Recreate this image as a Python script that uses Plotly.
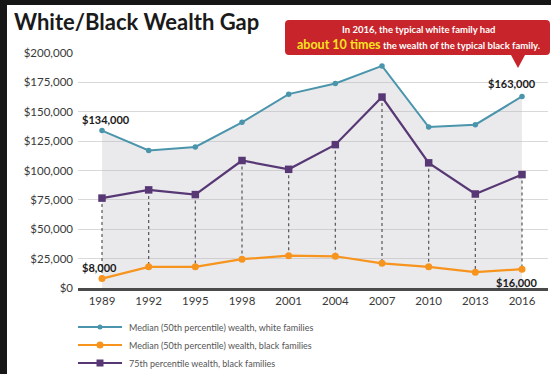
import plotly.graph_objects as go

years = [1989, 1992, 1995, 1998, 2001, 2004, 2007, 2010, 2013, 2016]
white_median = [134000, 117000, 120000, 141000, 165000, 174000, 189000, 137000, 139000, 163000]
black_median = [8000, 18000, 18000, 24500, 27500, 27000, 21000, 18000, 13500, 16000]
black_p75 = [76500, 83500, 79500, 108500, 101000, 122000, 162500, 106500, 80000, 96500]
y_ticks = [0, 25000, 50000, 75000, 100000, 125000, 150000, 175000, 200000]
y_tick_labels = ["$0", "$25,000", "$50,000", "$75,000", "$100,000", "$125,000", "$150,000", "$175,000", "$200,000"]
legend_names = ["Median (50th percentile) wealth, white families",
                "Median (50th percentile) wealth, black families",
                "75th percentile wealth, black families"]

W, H = 551, 374
L, R = 78, 548       # plot area pixel x
TOP, BOT = 53, 288   # plot area pixel y


def px(xp):
    return (xp - L) / (R - L)


def py(yp):
    return (BOT - yp) / (BOT - TOP)


C_WHITE = "#4a95ab"
C_BLACK = "#f7941e"
C_P75 = "#573874"
FONT = "Lato"

fig = go.Figure()

# shaded area under white median
fig.add_trace(go.Scatter(x=years, y=white_median, mode="none", fill="tozeroy",
                         fillcolor="rgba(185,185,195,0.3)", hoverinfo="skip", showlegend=False))

# dotted connectors between 75th pct and median black
dx, dy = [], []
for yr, a, b in zip(years, black_p75, black_median):
    dx += [yr, yr, None]
    dy += [a, b, None]
fig.add_trace(go.Scatter(x=dx, y=dy, mode="lines", line=dict(color="#555", width=1.2, dash="dot"),
                         hoverinfo="skip", showlegend=False))

fig.add_trace(go.Scatter(x=years, y=white_median, mode="lines+markers", name=legend_names[0],
                         line=dict(color=C_WHITE, width=2), marker=dict(size=5.5, color=C_WHITE),
                         cliponaxis=False, showlegend=False))
fig.add_trace(go.Scatter(x=years, y=black_median, mode="lines+markers", name=legend_names[1],
                         line=dict(color=C_BLACK, width=2.2), marker=dict(size=7, color=C_BLACK),
                         cliponaxis=False, showlegend=False))
fig.add_trace(go.Scatter(x=years, y=black_p75, mode="lines+markers", name=legend_names[2],
                         line=dict(color=C_P75, width=2.2),
                         marker=dict(size=7.5, color=C_P75, symbol="square"),
                         cliponaxis=False, showlegend=False))

shapes = []
# dark frame & white card
shapes.append(dict(type="rect", xref="paper", yref="paper", x0=px(7), x1=px(W + 2), y0=py(H + 2), y1=py(5),
                   fillcolor="#ffffff", line=dict(width=0), layer="below"))

# callout box with pointer
bx0, bx1, by0, by1, r = 285, 550, 20, 55, 4
tx, ttip = 518, 68
path = (f"M{px(bx0 + r)},{py(by0)} L{px(bx1 - r)},{py(by0)} Q{px(bx1)},{py(by0)} {px(bx1)},{py(by0 + r)} "
        f"L{px(bx1)},{py(by1 - r)} Q{px(bx1)},{py(by1)} {px(bx1 - r)},{py(by1)} "
        f"L{px(tx + 7)},{py(by1)} L{px(tx)},{py(ttip)} L{px(tx - 7)},{py(by1)} "
        f"L{px(bx0 + r)},{py(by1)} Q{px(bx0)},{py(by1)} {px(bx0)},{py(by1 - r)} "
        f"L{px(bx0)},{py(by0 + r)} Q{px(bx0)},{py(by0)} {px(bx0 + r)},{py(by0)} Z")
shapes.append(dict(type="path", xref="paper", yref="paper", path=path, fillcolor="#c7252b",
                   line=dict(width=0), layer="above"))

annotations = []
annotations.append(dict(xref="paper", yref="paper", x=px(12), y=py(22), xanchor="left", yanchor="middle",
                        text="<b>White/Black Wealth Gap</b>", showarrow=False,
                        font=dict(family=FONT, size=22, color="#1a1a1a")))
annotations.append(dict(xref="paper", yref="paper", x=px(418), y=py(30), xanchor="center", yanchor="middle",
                        text="<b>In 2016, the typical white family had</b>", showarrow=False,
                        font=dict(family=FONT, size=9.5, color="#ffffff")))
annotations.append(dict(xref="paper", yref="paper", x=px(418), y=py(44), xanchor="center", yanchor="middle",
                        text="<span style='color:#f6e41e;font-size:12.5px'><b>about 10 times</b></span>"
                             "<b> the wealth of the typical black family.</b>",
                        showarrow=False, font=dict(family=FONT, size=9.5, color="#ffffff")))

# value labels
lab = dict(showarrow=False, font=dict(family=FONT, size=11, color="#1a1a1a"))
annotations.append(dict(x=years[0], y=white_median[0], text=f"<b>${white_median[0]:,}</b>",
                        xshift=4, yshift=11, **lab))
annotations.append(dict(x=years[0], y=black_median[0], text=f"<b>${black_median[0]:,}</b>",
                        xshift=-3, yshift=11, **lab))
annotations.append(dict(x=years[-1], y=white_median[-1], text=f"<b>${white_median[-1]:,}</b>",
                        xshift=-10, yshift=13, **lab))
annotations.append(dict(x=years[-1], y=black_median[-1], text=f"<b>${black_median[-1]:,}</b>",
                        xshift=-6, yshift=-13, **lab))

# manual legend
leg_rows = [327, 345, 363]
leg_colors = [C_WHITE, C_BLACK, C_P75]
leg_syms = ["circle", "circle", "rect"]
leg_sizes = [2.5, 3.5, 3.5]
for rowy, col, sym, sz, name in zip(leg_rows, leg_colors, leg_syms, leg_sizes, legend_names):
    shapes.append(dict(type="line", xref="paper", yref="paper", x0=px(78), x1=px(122), y0=py(rowy), y1=py(rowy),
                       line=dict(color=col, width=2)))
    shapes.append(dict(type=sym, xref="paper", yref="paper", xsizemode="pixel", ysizemode="pixel",
                       xanchor=px(100), yanchor=py(rowy), x0=-sz, x1=sz, y0=-sz, y1=sz,
                       fillcolor=col, line=dict(width=0)))
    annotations.append(dict(xref="paper", yref="paper", x=px(127), y=py(rowy), xanchor="left", yanchor="middle",
                            text=name, showarrow=False, font=dict(family=FONT, size=9, color="#555")))

x_per_px = 27 / (522 - 102)
fig.update_layout(
    width=W, height=H,
    margin=dict(l=L, r=W - R, t=TOP, b=H - BOT),
    paper_bgcolor="#161616", plot_bgcolor="rgba(0,0,0,0)",
    shapes=shapes, annotations=annotations, showlegend=False,
    xaxis=dict(range=[1989 - (102 - L) * x_per_px, 2016 + (R - 522) * x_per_px],
               tickvals=years, ticktext=[str(y) for y in years], showgrid=False, zeroline=False,
               showline=True, linecolor="#4a4a4a", linewidth=2.5, ticks="",
               tickfont=dict(family=FONT, size=11.5, color="#3a3a3a")),
    yaxis=dict(range=[0, 200000], tickvals=y_ticks, ticktext=y_tick_labels, showgrid=True,
               gridcolor="#d9d9d9", gridwidth=1, zeroline=False, ticks="", ticklabelstandoff=4,
               tickfont=dict(family=FONT, size=11.5, color="#3a3a3a")),
)

fig.write_html("out.html")
